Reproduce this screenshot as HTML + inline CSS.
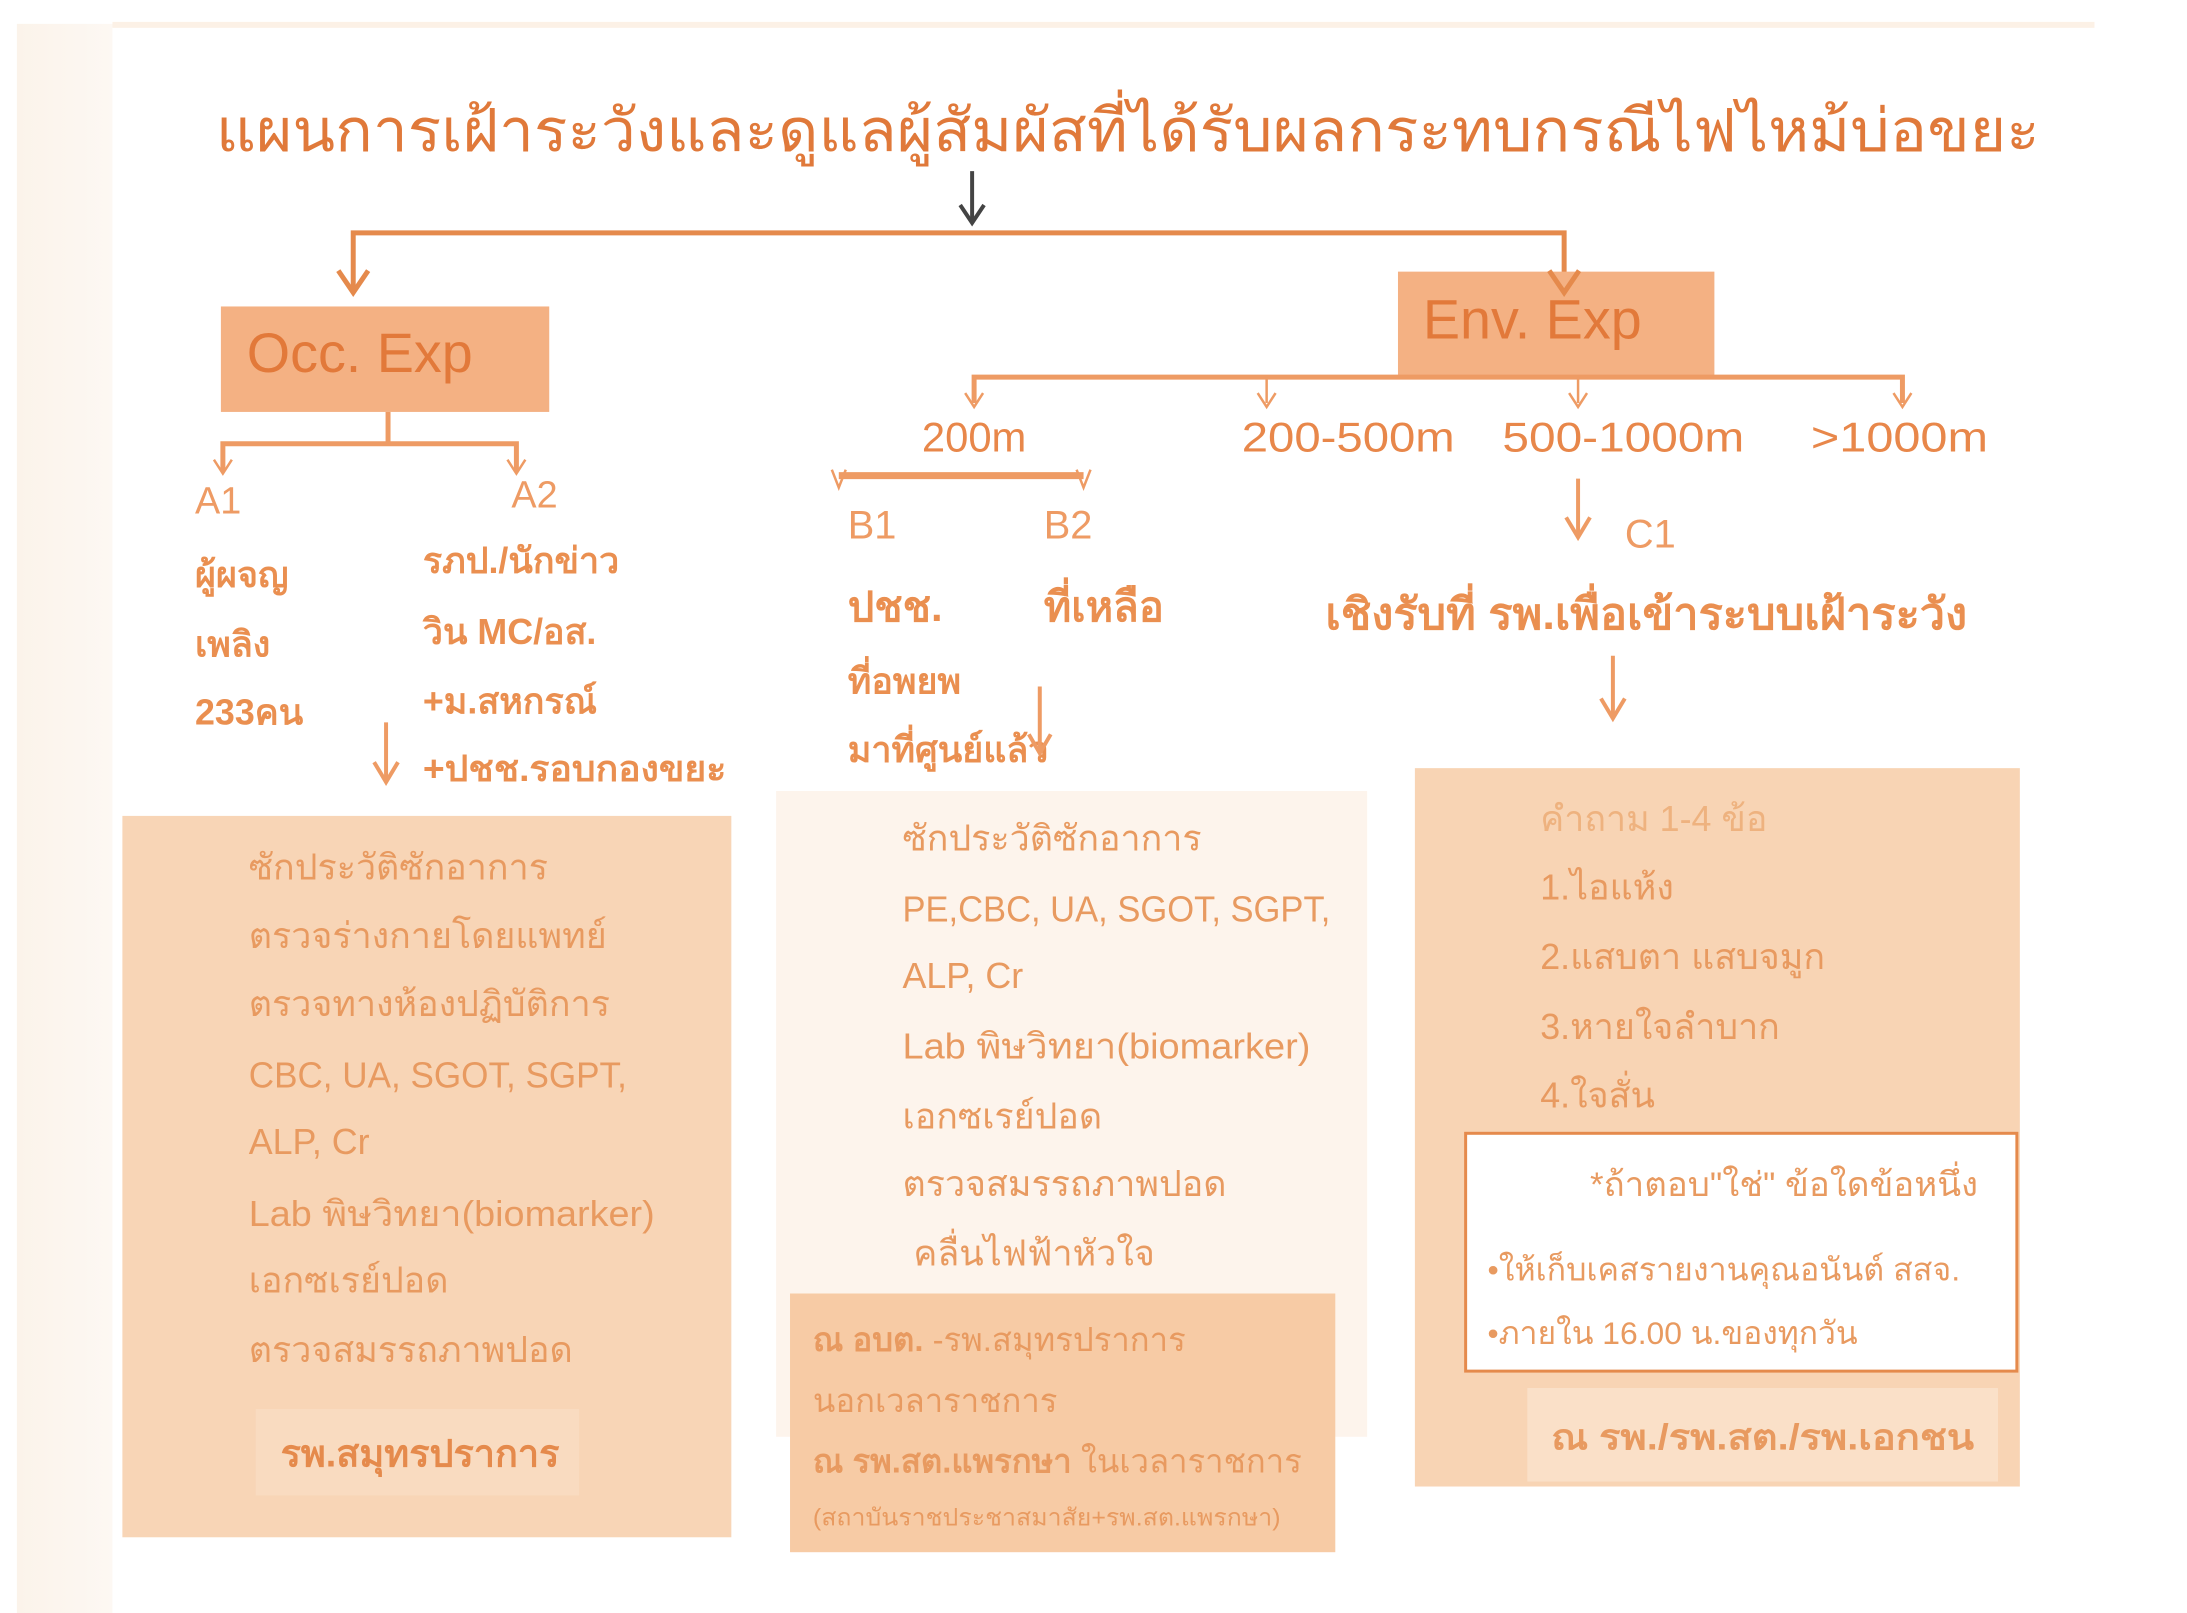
<!DOCTYPE html>
<html><head><meta charset="utf-8"><style>
html,body{margin:0;padding:0;background:#fff;}
svg{display:block;}
text{font-family:"Liberation Sans","DejaVu Sans",sans-serif;}
</style></head><body>
<svg width="2187" height="1613" viewBox="0 0 2187 1613" xmlns="http://www.w3.org/2000/svg">
<defs>
<linearGradient id="lg" x1="0" x2="1" y1="0" y2="0">
<stop offset="0" stop-color="#fbf3ea"/><stop offset="1" stop-color="#fdf8f3"/>
</linearGradient>
</defs>
<rect x="0" y="0" width="2187" height="1613" fill="#fff"/>
<g transform="scale(0.995)">
<rect x="17" y="24" width="96" height="1600" fill="url(#lg)"/>
<rect x="113" y="22" width="1992" height="6" fill="#fcf1e6"/>

<text x="217" y="152" font-size="60" fill="#e0793a" textLength="1833" lengthAdjust="spacingAndGlyphs">แผนการเฝ้าระวังและดูแลผู้สัมผัสที่ได้รับผลกระทบกรณีไฟไหม้บ่อขยะ</text>

<line x1="977" y1="172" x2="977" y2="222" stroke="#444" stroke-width="4"/>
<polyline points="965,206 977,224 989,206" fill="none" stroke="#444" stroke-width="4"/>

<polyline points="355,294 355,234 1572,234 1572,294" fill="none" stroke="#e58a4c" stroke-width="5"/>
<polyline points="340,272 355,294 370,272" fill="none" stroke="#e58a4c" stroke-width="5"/>

<rect x="222" y="308" width="330" height="106" fill="#f4b183"/>
<text x="248" y="374" font-size="56" fill="#e2793a">Occ. Exp</text>
<rect x="1405" y="273" width="318" height="106" fill="#f4b183"/>
<text x="1430" y="340" font-size="56" fill="#e2793a">Env. Exp</text>
<polyline points="1557,272 1572,294 1587,272" fill="none" stroke="#e58a4c" stroke-width="5"/>

<line x1="390" y1="414" x2="390" y2="446" stroke="#ee9b64" stroke-width="5"/>
<polyline points="224,474 224,446 519,446 519,474" fill="none" stroke="#ee9b64" stroke-width="5"/>
<polyline points="215,462 224,476 233,462" fill="none" stroke="#ee9b64" stroke-width="2.5"/>
<polyline points="510,462 519,476 528,462" fill="none" stroke="#ee9b64" stroke-width="2.5"/>

<g fill="#ee9b64" font-size="38">
<text x="196" y="516">A1</text>
<text x="514" y="510">A2</text>
</g>
<g fill="#ea8f50" font-size="36" font-weight="bold">
<text x="196" y="590">ผู้ผจญ</text>
<text x="196" y="660">เพลิง</text>
<text x="196" y="728">233คน</text>
<text x="425" y="576">รภป./นักข่าว</text>
<text x="425" y="647">วิน MC/อส.</text>
<text x="425" y="717">+ม.สหกรณ์</text>
<text x="425" y="785" textLength="305" lengthAdjust="spacingAndGlyphs">+ปชช.รอบกองขยะ</text>
</g>
<line x1="388" y1="726" x2="388" y2="784" stroke="#ee9b64" stroke-width="4"/>
<polyline points="376,766 388,786 400,766" fill="none" stroke="#ee9b64" stroke-width="4"/>

<rect x="123" y="820" width="612" height="725" fill="#f8d5b6"/>
<g fill="#e89a60" font-size="36">
<text x="250" y="884">ซักประวัติซักอาการ</text>
<text x="250" y="953">ตรวจร่างกายโดยแพทย์</text>
<text x="250" y="1021">ตรวจทางห้องปฏิบัติการ</text>
<text x="250" y="1093" textLength="380" lengthAdjust="spacingAndGlyphs">CBC, UA, SGOT, SGPT,</text>
<text x="250" y="1160">ALP, Cr</text>
<text x="250" y="1232" textLength="408" lengthAdjust="spacingAndGlyphs">Lab พิษวิทยา(biomarker)</text>
<text x="250" y="1299">เอกซเรย์ปอด</text>
<text x="250" y="1369">ตรวจสมรรถภาพปอด</text>
</g>
<rect x="257" y="1416" width="325" height="87" fill="#f9dbc0"/>
<text x="282" y="1474" font-size="38" font-weight="bold" fill="#e58a4c">รพ.สมุทรปราการ</text>

<polyline points="979,405 979,379 1912,379 1912,405" fill="none" stroke="#ee9b64" stroke-width="5"/>
<line x1="1273" y1="379" x2="1273" y2="405" stroke="#ee9b64" stroke-width="2.5"/>
<line x1="1586" y1="379" x2="1586" y2="405" stroke="#ee9b64" stroke-width="2.5"/>
<g fill="none" stroke="#ee9b64" stroke-width="2.5">
<polyline points="970,395 979,409 988,395"/>
<polyline points="1264,395 1273,409 1282,395"/>
<polyline points="1577,395 1586,409 1595,395"/>
<polyline points="1903,395 1912,409 1921,395"/>
</g>
<g fill="#e8874a" font-size="42">
<text x="979" y="454" text-anchor="middle">200m</text>
<text x="1248" y="454" textLength="214" lengthAdjust="spacingAndGlyphs">200-500m</text>
<text x="1510" y="454" textLength="243" lengthAdjust="spacingAndGlyphs">500-1000m</text>
<text x="1820" y="454" textLength="178" lengthAdjust="spacingAndGlyphs">&gt;1000m</text>
</g>

<line x1="843" y1="478" x2="1089" y2="478" stroke="#ee9b64" stroke-width="7"/>
<polyline points="836,472 843,490 850,472" fill="none" stroke="#ee9b64" stroke-width="2.5"/>
<polyline points="1082,472 1089,490 1096,472" fill="none" stroke="#ee9b64" stroke-width="2.5"/>
<g fill="#ee9b64" font-size="40">
<text x="852" y="541">B1</text>
<text x="1049" y="541">B2</text>
</g>
<g fill="#ea8f50" font-weight="bold">
<text x="852" y="624" font-size="42">ปชช.</text>
<text x="1049" y="624" font-size="42">ที่เหลือ</text>
<text x="852" y="697" font-size="36">ที่อพยพ</text>
<text x="852" y="766" font-size="36">มาที่ศูนย์แล้ว</text>
</g>
<line x1="1045" y1="690" x2="1045" y2="755" stroke="#ee9b64" stroke-width="4"/>
<polyline points="1034,738 1045,757 1056,738" fill="none" stroke="#ee9b64" stroke-width="4"/>

<rect x="780" y="795" width="594" height="649" fill="#fdf4ec"/>
<g fill="#e89a60" font-size="36">
<text x="907" y="855">ซักประวัติซักอาการ</text>
<text x="907" y="926" textLength="430" lengthAdjust="spacingAndGlyphs">PE,CBC, UA, SGOT, SGPT,</text>
<text x="907" y="993">ALP, Cr</text>
<text x="907" y="1064" textLength="410" lengthAdjust="spacingAndGlyphs">Lab พิษวิทยา(biomarker)</text>
<text x="907" y="1134">เอกซเรย์ปอด</text>
<text x="907" y="1202">ตรวจสมรรถภาพปอด</text>
<text x="918" y="1272">คลื่นไฟฟ้าหัวใจ</text>
</g>
<rect x="794" y="1300" width="548" height="260" fill="#f7cba5"/>
<g fill="#e89a60">
<text x="817" y="1358" font-size="33"><tspan font-weight="bold">ณ อบต.</tspan> -รพ.สมุทรปราการ</text>
<text x="817" y="1419" font-size="33">นอกเวลาราชการ</text>
<text x="817" y="1480" font-size="33"><tspan font-weight="bold">ณ รพ.สต.แพรกษา</tspan> ในเวลาราชการ</text>
<text x="817" y="1533" font-size="24" textLength="470" lengthAdjust="spacingAndGlyphs">(สถาบันราชประชาสมาสัย+รพ.สต.แพรกษา)</text>
</g>

<line x1="1586" y1="481" x2="1586" y2="538" stroke="#ee9b64" stroke-width="4"/>
<polyline points="1574,520 1586,540 1598,520" fill="none" stroke="#ee9b64" stroke-width="4"/>
<text x="1633" y="550" font-size="40" fill="#ee9b64">C1</text>
<text x="1332" y="632" font-size="44" font-weight="bold" fill="#ea8f50" textLength="645" lengthAdjust="spacingAndGlyphs">เชิงรับที่ รพ.เพื่อเข้าระบบเฝ้าระวัง</text>
<line x1="1621" y1="659" x2="1621" y2="720" stroke="#ee9b64" stroke-width="4"/>
<polyline points="1609,702 1621,722 1633,702" fill="none" stroke="#ee9b64" stroke-width="4"/>

<rect x="1422" y="772" width="608" height="722" fill="#f8d4b4"/>
<g font-size="36" fill="#e89a60">
<text x="1548" y="835" fill="#eeb27f">คำถาม 1-4 ข้อ</text>
<text x="1548" y="904">1.ไอแห้ง</text>
<text x="1548" y="974">2.แสบตา แสบจมูก</text>
<text x="1548" y="1044">3.หายใจลำบาก</text>
<text x="1548" y="1113">4.ใจสั่น</text>
</g>
<rect x="1473" y="1139" width="554" height="239" fill="#fff" stroke="#e58a4c" stroke-width="3"/>
<g fill="#e89a60" font-size="34">
<text x="1598" y="1202" textLength="390" lengthAdjust="spacingAndGlyphs">*ถ้าตอบ"ใช่" ข้อใดข้อหนึ่ง</text>
<text x="1495" y="1287" font-size="32" textLength="475" lengthAdjust="spacingAndGlyphs">•ให้เก็บเคสรายงานคุณอนันต์ สสจ.</text>
<text x="1495" y="1351" font-size="32">•ภายใน 16.00 น.ของทุกวัน</text>
</g>
<rect x="1535" y="1395" width="473" height="94" fill="#fae0c8"/>
<text x="1559" y="1457" font-size="36" font-weight="bold" fill="#e89a60" textLength="425" lengthAdjust="spacingAndGlyphs">ณ  รพ./รพ.สต./รพ.เอกชน</text>
</g>
</svg>
</body></html>
